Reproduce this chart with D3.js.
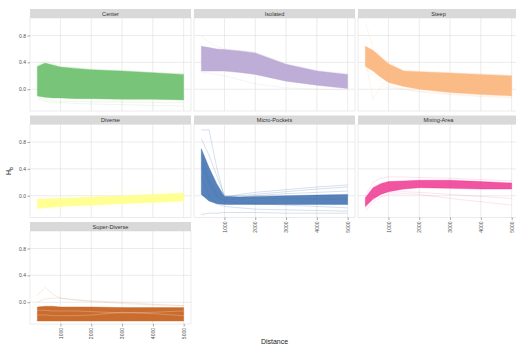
<!DOCTYPE html>
<html>
<head>
<meta charset="utf-8">
<script src="https://cdn.jsdelivr.net/npm/d3@7"></script>
<style>
  body { margin: 0; background: #fff; }
  svg { display: block; font-family: "Liberation Sans", Arial, sans-serif; }
</style>
</head>
<body>
<svg id="chart" width="516" height="347"></svg>
<script>
// Distances sampled along every run
const distances = [250, 500, 750, 1000, 1500, 2000, 3000, 4000, 5000];
const facetNames = ['Center', 'Isolated', 'Steep', 'Diverse', 'Micro-Pockets', 'Mixing-Area', 'Super-Diverse'];
const facetColours = ['#6cc06e', '#b9a6d4', '#fbb57d', '#ffff8a', '#3a6cae', '#ee2a8a', '#c65f1c'];
const yTicks = [0.0, 0.4, 0.8];
const xTicks = [1000, 2000, 3000, 4000, 5000];

// Dense bundle edges (high / low) and a few stray runs per facet
const centerHigh = [0.34, 0.39, 0.36, 0.33, 0.31, 0.29, 0.27, 0.245, 0.22];
const centerLow = [-0.10, -0.12, -0.13, -0.13, -0.14, -0.14, -0.15, -0.15, -0.16];
const centerRuns = [
    [0.36, 0.42, 0.38, 0.34, 0.32, 0.30, 0.28, 0.25, 0.23],
    [-0.14, -0.18, -0.20, -0.20, -0.21, -0.22, -0.23, -0.24, -0.25],
    [-0.12, -0.15, -0.17, -0.18, -0.18, -0.19, -0.19, -0.20, -0.20]
];

const isolatedHigh = [0.64, 0.62, 0.60, 0.59, 0.57, 0.54, 0.37, 0.27, 0.22];
const isolatedLow = [0.27, 0.27, 0.27, 0.27, 0.25, 0.22, 0.12, 0.06, 0.01];
const isolatedRuns = [
    [0.79, 0.70, 0.64, 0.60, 0.58, 0.55, 0.38, 0.28, 0.23],
    [0.25, 0.24, 0.22, 0.20, 0.14, 0.08, 0.02, 0.0, -0.01]
];

const steepHigh = [0.64, 0.58, 0.48, 0.38, 0.27, 0.26, 0.24, 0.22, 0.20];
const steepLow = [0.34, 0.27, 0.18, 0.10, 0.04, 0.0, -0.05, -0.08, -0.10];
const steepRuns = [
    [1.0, 0.62, 0.50, 0.40, 0.29, 0.27, 0.25, 0.23, 0.21],
    [0.45, -0.15, 0.05, 0.02, 0.0, -0.03, -0.07, -0.10, -0.12],
    [0.30, 0.22, 0.10, 0.05, 0.0, -0.04, -0.08, -0.11, -0.13]
];

const diverseHigh = [-0.05, -0.05, -0.04, -0.04, -0.03, -0.02, 0.0, 0.02, 0.04];
const diverseLow = [-0.19, -0.18, -0.17, -0.16, -0.15, -0.14, -0.12, -0.10, -0.08];
const diverseRuns = [
    [-0.03, -0.02, -0.01, 0.0, 0.02, 0.04, 0.06, 0.08, 0.10],
    [-0.22, -0.21, -0.20, -0.19, -0.18, -0.17, -0.15, -0.13, -0.11]
];

const microHigh = [0.70, 0.42, 0.18, -0.01, -0.02, -0.01, 0.0, 0.01, 0.02];
const microLow = [0.02, -0.08, -0.12, -0.13, -0.13, -0.13, -0.13, -0.13, -0.13];
const microRuns = [
    [0.98, 0.98, 0.42, -0.02, -0.02, 0.0, 0.03, 0.05, 0.07],
    [0.85, 0.60, 0.30, 0.0, 0.0, 0.02, 0.06, 0.10, 0.13],
    [0.50, 0.20, 0.05, -0.03, 0.02, 0.05, 0.09, 0.13, 0.16],
    [-0.28, -0.26, -0.26, -0.25, -0.25, -0.25, -0.26, -0.26, -0.26],
    [0.30, 0.0, -0.12, -0.16, -0.18, -0.20, -0.21, -0.22, -0.23],
    [0.60, 0.25, 0.0, -0.08, -0.10, -0.12, -0.14, -0.16, -0.18],
    [0.45, 0.15, -0.02, -0.06, -0.05, -0.04, -0.04, -0.05, -0.05]
];

const mixingHigh = [-0.03, 0.12, 0.18, 0.21, 0.22, 0.23, 0.23, 0.21, 0.19];
const mixingLow = [-0.16, -0.05, 0.02, 0.06, 0.10, 0.12, 0.11, 0.10, 0.10];
const mixingRuns = [
    [0.0, 0.20, 0.26, 0.28, 0.28, 0.27, 0.26, 0.24, 0.22],
    [-0.22, -0.10, -0.02, 0.02, 0.03, 0.02, -0.04, -0.09, -0.14],
    [-0.18, -0.06, 0.03, 0.05, 0.06, 0.05, 0.02, -0.01, -0.04]
];

const superHigh = [-0.07, -0.06, -0.06, -0.07, -0.07, -0.07, -0.08, -0.08, -0.08];
const superLow = [-0.28, -0.28, -0.28, -0.28, -0.28, -0.28, -0.28, -0.28, -0.28];
const superRuns = [
    [0.10, 0.22, 0.12, 0.06, 0.03, 0.01, -0.02, -0.04, -0.05],
    [0.0, 0.05, 0.06, 0.06, 0.04, 0.02, 0.0, -0.03, -0.05]
];
// paler runs seen inside the Super-Diverse bundle
const superPaleRuns = [
    [-0.19, -0.19, -0.20, -0.20, -0.20, -0.19, -0.15, -0.17, -0.20],
    [-0.12, -0.12, -0.13, -0.13, -0.13, -0.14, -0.16, -0.15, -0.13]
];

const bandHighs = [centerHigh, isolatedHigh, steepHigh, diverseHigh, microHigh, mixingHigh, superHigh];
const bandLows = [centerLow, isolatedLow, steepLow, diverseLow, microLow, mixingLow, superLow];
const strayRuns = [centerRuns, isolatedRuns, steepRuns, diverseRuns, microRuns, mixingRuns, superRuns];

// Layout (ggplot facet_wrap, 3 columns)
const marginLeft = 30, marginTop = 9;
const panelW = 161, panelH = 93, stripH = 9, colGap = 3, rowGap = 4.5;

const svg = d3.select('#chart');

const x = d3.scaleLinear().domain([12.5, 5237.5]).range([0, panelW]);
const y = d3.scaleLinear().domain([-0.324, 1.06]).range([panelH, 0]);

const line = d3.line()
    .x((d, i) => x(distances[i]))
    .y(d => y(d));

const area = d3.area()
    .x((d, i) => x(distances[i]))
    .y0(d => y(d[0]))
    .y1(d => y(d[1]));

svg.append('defs').append('clipPath')
    .attr('id', 'panel-clip')
    .append('rect')
    .attr('width', panelW)
    .attr('height', panelH);

facetNames.forEach((name, i) => {
    const col = i % 3;
    const row = Math.floor(i / 3);
    const colour = facetColours[i];
    const gx = marginLeft + col * (panelW + colGap);
    const gy = marginTop + row * (stripH + panelH + rowGap);

    const g = svg.append('g').attr('transform', `translate(${gx},${gy})`);

    // Strip
    g.append('rect')
        .attr('width', panelW)
        .attr('height', stripH)
        .attr('fill', '#d9d9d9');
    g.append('text')
        .attr('x', panelW / 2)
        .attr('y', stripH / 2 + 2)
        .attr('text-anchor', 'middle')
        .attr('font-size', 5.6)
        .attr('fill', '#333')
        .text(name);

    const p = g.append('g').attr('transform', `translate(0,${stripH})`);

    p.append('rect')
        .attr('width', panelW)
        .attr('height', panelH)
        .attr('fill', '#fff');

    // Grid
    p.selectAll('.gy')
        .data(yTicks)
        .enter()
        .append('line')
        .attr('x1', 0)
        .attr('x2', panelW)
        .attr('y1', d => y(d))
        .attr('y2', d => y(d))
        .attr('stroke', '#dedede')
        .attr('stroke-width', 0.6);
    p.selectAll('.gx')
        .data(xTicks)
        .enter()
        .append('line')
        .attr('x1', d => x(d))
        .attr('x2', d => x(d))
        .attr('y1', 0)
        .attr('y2', panelH)
        .attr('stroke', '#dedede')
        .attr('stroke-width', 0.6);

    const marks = p.append('g').attr('clip-path', 'url(#panel-clip)');

    // Stray runs, faint
    marks.selectAll('.run')
        .data(strayRuns[i])
        .enter()
        .append('path')
        .attr('fill', 'none')
        .attr('stroke', colour)
        .attr('stroke-opacity', i === 4 ? 0.35 : 0.22)
        .attr('stroke-width', 0.6)
        .attr('d', line);

    // Dense bundle of runs
    marks.append('path')
        .datum(bandLows[i].map((lo, k) => [lo, bandHighs[i][k]]))
        .attr('fill', colour)
        .attr('fill-opacity', i === 4 ? 0.85 : (i === 5 ? 0.8 : 0.92))
        .attr('stroke', colour)
        .attr('stroke-opacity', 0.6)
        .attr('stroke-width', 0.6)
        .attr('d', area);

    if (name === 'Super-Diverse') {
        marks.selectAll('.pale')
            .data(superPaleRuns)
            .enter()
            .append('path')
            .attr('fill', 'none')
            .attr('stroke', '#fff')
            .attr('stroke-opacity', 0.3)
            .attr('stroke-width', 0.8)
            .attr('d', line);
    }

    p.append('rect')
        .attr('width', panelW)
        .attr('height', panelH)
        .attr('fill', 'none')
        .attr('stroke', '#d8d8d8')
        .attr('stroke-width', 0.5);

    // Y axis on first column
    if (col === 0) {
        const ay = p.append('g')
            .call(d3.axisLeft(y)
                .tickValues(yTicks)
                .tickSize(2.5)
                .tickPadding(1.5)
                .tickFormat(d3.format('.1f')));
        ay.select('.domain').remove();
        ay.selectAll('line').attr('stroke', '#4d4d4d').attr('stroke-width', 0.5);
        ay.selectAll('text').attr('font-size', 5).attr('fill', '#4d4d4d')
            .attr('font-family', '"Liberation Sans", Arial, sans-serif');
    }

    // X axis under the lowest panel of each column
    const lastRow = col === 0 ? 2 : 1;
    if (row === lastRow) {
        const ax = p.append('g')
            .attr('transform', `translate(0,${panelH})`)
            .call(d3.axisBottom(x)
                .tickValues(xTicks)
                .tickSize(2.5)
                .tickFormat(d3.format('d')));
        ax.select('.domain').remove();
        ax.selectAll('line').attr('stroke', '#4d4d4d').attr('stroke-width', 0.5);
        ax.selectAll('text')
            .attr('font-size', 5)
            .attr('fill', '#4d4d4d')
            .attr('font-family', '"Liberation Sans", Arial, sans-serif')
            .attr('text-anchor', 'end')
            .attr('dy', '0.35em')
            .attr('transform', 'translate(0,4) rotate(-90)')
            .attr('x', 0)
            .attr('y', 0);
    }
});

// Axis titles
svg.append('text')
    .attr('transform', 'translate(11,171) rotate(-90)')
    .attr('text-anchor', 'middle')
    .attr('font-size', 7)
    .attr('fill', '#1a1a1a')
    .text('H')
    .append('tspan')
    .attr('font-size', 5)
    .attr('dy', 2)
    .text('b');

svg.append('text')
    .attr('x', marginLeft + (3 * panelW + 2 * colGap) / 2)
    .attr('y', 344)
    .attr('text-anchor', 'middle')
    .attr('font-size', 7)
    .attr('fill', '#1a1a1a')
    .text('Distance');
</script>
</body>
</html>
